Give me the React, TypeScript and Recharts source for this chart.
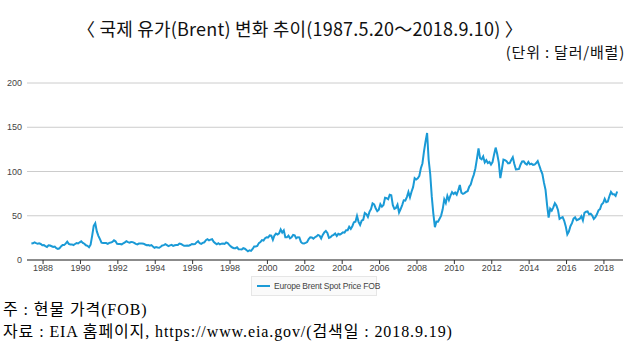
import React from 'react';
import { LineChart, Line, XAxis, YAxis, CartesianGrid } from 'recharts';

// Brent spot price, monthly, from 1987.5 to 2018.9 (USD/bbl)
const startYear = 1987;
const startMonth = 5;

const prices1987 = [18.6, 18.9, 19.9, 19.0, 18.3, 18.8, 18.1, 16.7];
const prices1988 = [16.8, 15.7, 14.7, 16.6, 16.3, 15.5, 14.7, 15.2, 13.4, 12.6, 13.2, 15.3];
const prices1989 = [17.0, 16.9, 18.5, 20.7, 18.2, 17.5, 17.6, 16.9, 18.1, 19.1, 18.7, 20.0];
const prices1990 = [21.2, 19.4, 18.4, 16.6, 16.0, 14.4, 17.3, 27.2, 38.5, 41.5, 32.3, 27.3];
const prices1991 = [23.6, 19.5, 19.1, 19.2, 19.2, 18.2, 19.4, 19.8, 20.5, 22.2, 21.1, 18.4];
const prices1992 = [18.2, 18.1, 17.6, 18.9, 19.9, 21.2, 20.2, 19.6, 20.3, 20.2, 19.4, 18.2];
const prices1993 = [17.6, 18.6, 18.6, 18.6, 18.4, 17.5, 16.8, 17.0, 16.2, 16.9, 15.3, 13.8];
const prices1994 = [14.7, 14.1, 13.8, 15.0, 16.4, 16.8, 17.8, 16.8, 15.7, 16.5, 17.1, 15.9];
const prices1995 = [16.6, 17.0, 16.9, 18.6, 18.1, 17.0, 16.0, 16.2, 16.4, 16.2, 16.9, 18.1];
const prices1996 = [17.8, 18.0, 19.9, 21.2, 18.9, 18.3, 19.4, 20.0, 22.3, 23.5, 22.2, 23.0];
const prices1997 = [23.5, 20.6, 19.1, 17.8, 19.0, 17.6, 18.5, 18.6, 18.2, 19.8, 19.0, 17.1];
const prices1998 = [15.4, 14.1, 13.3, 13.4, 14.4, 12.2, 12.0, 11.8, 13.3, 12.8, 11.2, 9.8];
const prices1999 = [11.0, 10.3, 12.5, 15.3, 15.3, 15.8, 19.1, 20.2, 22.5, 22.0, 24.6, 25.6];
const prices2000 = [25.5, 27.8, 27.5, 22.8, 27.7, 29.8, 28.7, 30.2, 34.5, 31.0, 33.5, 25.7];
const prices2001 = [25.6, 27.5, 24.5, 25.7, 28.3, 27.9, 24.6, 25.7, 25.6, 20.5, 18.8, 18.7];
const prices2002 = [19.4, 20.3, 23.7, 25.7, 25.4, 24.1, 25.7, 26.7, 28.4, 27.5, 24.3, 28.3];
const prices2003 = [31.2, 32.8, 30.6, 25.0, 25.9, 27.7, 28.4, 29.9, 27.1, 29.6, 28.8, 29.8];
const prices2004 = [31.3, 30.9, 33.6, 33.6, 37.6, 35.2, 38.2, 42.7, 43.2, 49.8, 43.1, 39.6];
const prices2005 = [44.5, 45.5, 53.1, 51.9, 48.7, 54.4, 57.5, 64.0, 62.9, 58.5, 55.2, 56.9];
const prices2006 = [63.0, 60.2, 62.1, 70.3, 69.8, 68.6, 73.7, 73.2, 62.0, 57.8, 58.8, 62.5];
const prices2007 = [53.7, 57.6, 62.1, 67.5, 67.2, 71.1, 76.9, 70.8, 77.2, 82.3, 92.4, 90.9];
const prices2008 = [92.2, 95.0, 103.6, 109.1, 122.8, 134.0, 143.5, 113.2, 97.2, 71.6, 52.5, 37.0];
const prices2009 = [43.4, 43.3, 46.5, 50.2, 57.3, 68.6, 64.4, 72.5, 67.7, 72.8, 76.7, 74.5];
const prices2010 = [76.2, 73.8, 78.8, 84.8, 76.0, 74.8, 75.6, 77.0, 77.8, 82.7, 85.3, 91.5];
const prices2011 = [96.5, 103.7, 114.6, 126.0, 115.0, 113.8, 117.0, 110.2, 112.8, 109.6, 110.8, 107.9];
const prices2012 = [110.7, 119.3, 127.0, 119.8, 110.3, 92.5, 102.6, 113.4, 112.9, 111.7, 109.1, 109.5];
const prices2013 = [113.0, 116.1, 108.5, 102.3, 102.6, 102.9, 107.9, 111.3, 111.6, 109.1, 107.8, 110.8];
const prices2014 = [108.1, 108.9, 107.5, 107.8, 109.5, 111.8, 106.8, 101.6, 97.1, 87.4, 79.4, 62.3];
const prices2015 = [47.8, 58.1, 55.9, 59.5, 64.1, 61.5, 56.6, 46.5, 47.6, 48.4, 44.3, 38.0];
const prices2016 = [29.0, 32.2, 38.2, 41.6, 46.7, 48.3, 45.0, 45.8, 46.6, 49.5, 44.7, 53.3];
const prices2017 = [54.6, 54.9, 51.6, 52.3, 50.3, 46.4, 48.5, 51.7, 56.2, 57.5, 62.7, 64.4];
const prices2018 = [69.1, 65.3, 66.0, 72.1, 77.0, 74.4, 74.3, 72.5, 77.4];

const prices = [
  ...prices1987, ...prices1988, ...prices1989, ...prices1990, ...prices1991, ...prices1992,
  ...prices1993, ...prices1994, ...prices1995, ...prices1996, ...prices1997, ...prices1998,
  ...prices1999, ...prices2000, ...prices2001, ...prices2002, ...prices2003, ...prices2004,
  ...prices2005, ...prices2006, ...prices2007, ...prices2008, ...prices2009, ...prices2010,
  ...prices2011, ...prices2012, ...prices2013, ...prices2014, ...prices2015, ...prices2016,
  ...prices2017, ...prices2018,
];

const yearTicks = [1988, 1990, 1992, 1994, 1996, 1998, 2000, 2002, 2004, 2006, 2008, 2010, 2012, 2014, 2016, 2018];
const valueTicks = [0, 50, 100, 150, 200];

const data = prices.map((price, i) => ({
  t: startYear + (startMonth - 1 + i + 0.5) / 12,
  price,
}));

const LINE = '#1a9ad6';
const serif = '"Liberation Serif", "Noto Sans CJK KR", serif';
const gothic = '"Noto Sans CJK KR", "Liberation Sans", sans-serif';
const axisFont = { fill: '#444', fontSize: 9, fontFamily: 'Liberation Sans, Arial, sans-serif' };

export default function App() {
  return (
    <div style={{ position: 'absolute', left: 0, top: 0, width: 643, height: 356, background: '#fff', overflow: 'hidden' }}>
      <div style={{ position: 'absolute', top: 14, left: 0, width: 600, textAlign: 'center', fontFamily: gothic, fontSize: 18, fontWeight: 400, color: '#111', lineHeight: '28px', letterSpacing: 0.2 }}>
        〈 국제 유가(Brent) 변화 추이(1987.5.20～2018.9.10) 〉
      </div>
      <div style={{ position: 'absolute', top: 40, right: 18, fontFamily: gothic, fontSize: 15, color: '#111', lineHeight: '24px', letterSpacing: 0.8, whiteSpace: 'pre' }}>
        (단위 : 달러/배럴)
      </div>

      <div style={{ position: 'absolute', top: 70, left: 0 }}>
        <LineChart width={643} height={230} data={data} margin={{ top: 13, right: 20, bottom: 20, left: 5 }}>
          <CartesianGrid vertical={false} stroke="#cccccc" />
          <XAxis
            dataKey="t"
            type="number"
            domain={[1987.14, 2019.02]}
            ticks={yearTicks}
            allowDataOverflow
            height={20}
            stroke="#333"
            tickSize={4}
            tickMargin={1}
            tick={axisFont}
          />
          <YAxis
            domain={[0, 200]}
            ticks={valueTicks}
            width={22}
            axisLine={false}
            tickLine={false}
            tickSize={0}
            tickMargin={5}
            tick={axisFont}
          />
          <Line
            type="linear"
            dataKey="price"
            stroke={LINE}
            strokeWidth={2}
            dot={false}
            isAnimationActive={false}
          />
        </LineChart>
      </div>

      <div style={{ position: 'absolute', left: 251, top: 276, width: 126, height: 20, boxSizing: 'border-box', border: '1px solid #e6e6e6', background: '#fafafa', display: 'flex', alignItems: 'center', whiteSpace: 'nowrap', fontFamily: 'Liberation Sans, Arial, sans-serif', fontSize: 8.5, letterSpacing: -0.2, color: '#444' }}>
        <span style={{ display: 'inline-block', flex: 'none', width: 13, height: 2, background: LINE, marginLeft: 5, marginRight: 4 }} />
        Europe Brent Spot Price FOB
      </div>

      <div style={{ position: 'absolute', left: 3, top: 299, fontFamily: serif, fontSize: 16, color: '#000', lineHeight: '22px', letterSpacing: 0.9, whiteSpace: 'pre' }}>
        <div>주 : 현물 가격(FOB)</div>
        <div>자료 : EIA 홈페이지, https://www.eia.gov/(검색일 : 2018.9.19)</div>
      </div>
    </div>
  );
}
